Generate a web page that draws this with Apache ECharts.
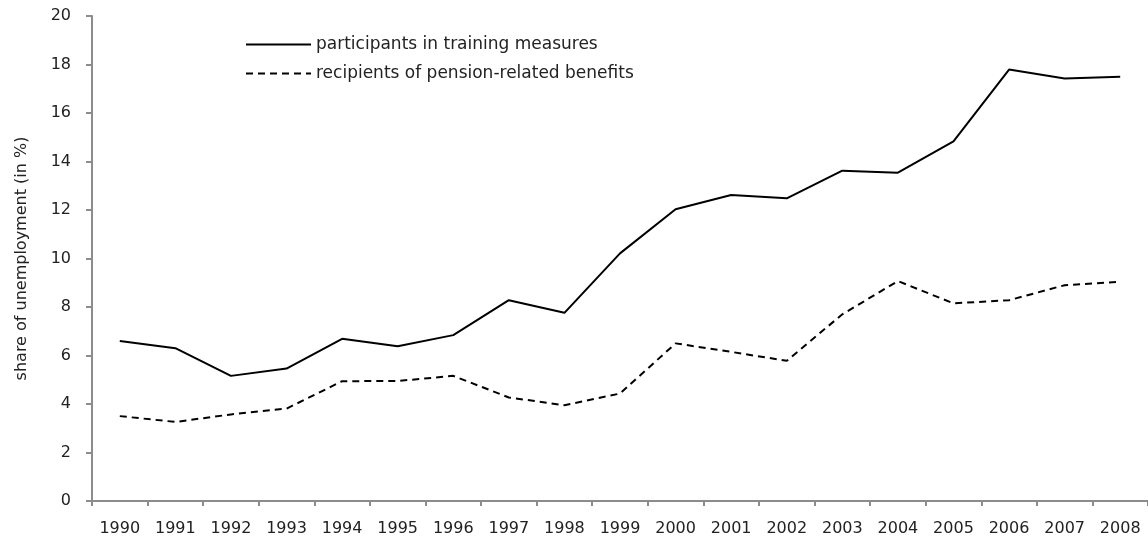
<!DOCTYPE html>
<html>
<head>
<meta charset="utf-8">
<script src="https://cdn.jsdelivr.net/npm/echarts@6/dist/echarts.min.js"></script>
<style>
html,body{margin:0;padding:0;background:#fff;}
#main{width:1148px;height:547px;}
</style>
</head>
<body>
<div id="main"></div>
<script>
var years = ['1990','1991','1992','1993','1994','1995','1996','1997','1998','1999','2000','2001','2002','2003','2004','2005','2006','2007','2008'];
var training = [6.60, 6.30, 5.16, 5.46, 6.69, 6.38, 6.84, 8.28, 7.76, 10.21, 12.03, 12.62, 12.48, 13.62, 13.54, 14.83, 17.79, 17.42, 17.49];
var pension = [3.50, 3.26, 3.57, 3.81, 4.94, 4.95, 5.16, 4.27, 3.95, 4.43, 6.50, 6.15, 5.78, 7.70, 9.07, 8.15, 8.28, 8.90, 9.04];
var seriesNames = ['participants in training measures', 'recipients of pension-related benefits'];
var yAxisName = 'share of unemployment (in %)';

var FONT = 'DejaVu Sans';
var chart = echarts.init(document.getElementById('main'), null, {renderer: 'canvas'});
chart.setOption({
  animation: false,
  backgroundColor: '#ffffff',
  textStyle: {fontFamily: FONT},
  grid: {left: 92, right: 0, top: 16, bottom: 46, containLabel: false},
  legend: {
    orient: 'vertical',
    left: 245,
    top: 36,
    padding: 0,
    itemWidth: 65,
    itemHeight: 10,
    itemGap: 12,
    itemStyle: {color: 'transparent', borderColor: 'transparent', borderWidth: 0, opacity: 0},
    textStyle: {fontFamily: FONT, fontSize: 17, color: '#222'},
    data: seriesNames
  },
  xAxis: {
    type: 'category',
    data: years,
    boundaryGap: true,
    axisLine: {lineStyle: {color: '#8c8c8c', width: 2}},
    axisTick: {show: true, length: 5, lineStyle: {color: '#8c8c8c', width: 2}},
    axisLabel: {fontFamily: FONT, fontSize: 16, color: '#222', margin: 20, interval: 0}
  },
  yAxis: {
    type: 'value',
    min: 0, max: 20, interval: 2,
    name: yAxisName,
    nameLocation: 'middle',
    nameGap: 62,
    nameTextStyle: {fontFamily: FONT, fontSize: 16, color: '#222'},
    axisLine: {show: true, lineStyle: {color: '#8c8c8c', width: 2}},
    axisTick: {show: true, length: 6, lineStyle: {color: '#8c8c8c', width: 2}},
    axisLabel: {fontFamily: FONT, fontSize: 16, color: '#222', margin: 21},
    splitLine: {show: false}
  },
  series: [
    {
      name: seriesNames[0],
      type: 'line',
      data: training,
      symbol: 'none',
      lineStyle: {color: '#000', width: 2, type: 'solid'},
      itemStyle: {color: '#000'}
    },
    {
      name: seriesNames[1],
      type: 'line',
      data: pension,
      symbol: 'none',
      lineStyle: {color: '#000', width: 2, type: [7, 5]},
      itemStyle: {color: '#000'}
    }
  ]
});
</script>
</body>
</html>
